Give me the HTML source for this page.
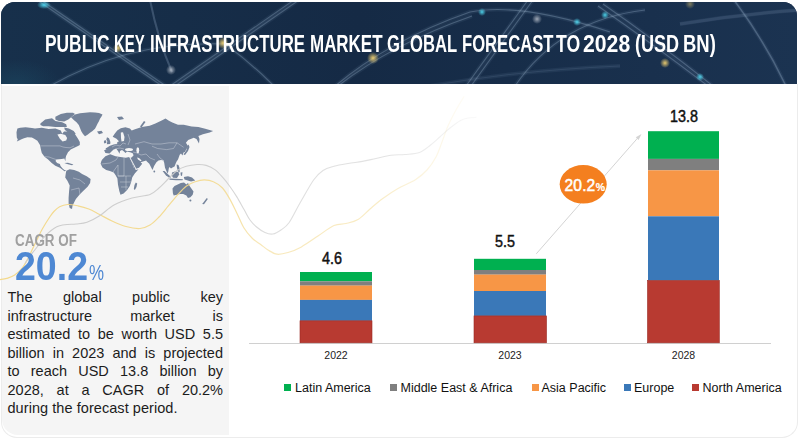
<!DOCTYPE html>
<html><head><meta charset="utf-8">
<style>
*{margin:0;padding:0;box-sizing:border-box}
html,body{width:800px;height:442px;overflow:hidden;background:#fff;font-family:"Liberation Sans",sans-serif}
.abs{position:absolute}
#banner{left:1px;top:2px;width:796px;height:82px;border-radius:14px 14px 0 0;background:#162c47;overflow:hidden}
#title{white-space:nowrap;color:#fff;font-weight:bold;font-size:23px;width:796px;height:30px}
.tw{position:absolute;top:0;transform-origin:0 0}
#card{left:1px;top:84px;width:797px;height:354px;border:1px solid #ececec;border-top:none;border-radius:0 0 16px 16px}
#panel{left:1.5px;top:86px;width:227px;height:349px;background:#f5f5f5;border-radius:0 0 0 16px}
#cagr{left:15px;top:230px;color:#a0a0a0;font-weight:bold;font-size:17.2px;white-space:nowrap;transform-origin:0 0;transform:scaleX(0.781)}
#big{left:14.5px;top:242.5px;color:#4e88d3;font-weight:bold;font-size:41px;white-space:nowrap;transform-origin:0 0;transform:scaleX(0.915)}
#big span{margin-left:1.5px;font-size:21.5px;font-weight:normal;display:inline-block;transform-origin:0 100%;transform:scaleX(0.86)}
#body{left:7.5px;top:288.4px;width:215.5px;font-size:14.5px;line-height:18.45px;color:#1c1c1c}
#body .j{text-align:justify;text-align-last:justify;white-space:nowrap}
#body .l{white-space:nowrap;letter-spacing:0.06px}
.val{font-weight:normal;-webkit-text-stroke:0.45px #111;font-size:15.6px;color:#111;white-space:nowrap;transform:translateX(-50%) scaleX(0.92)}
.yr{font-size:10.5px;color:#222;white-space:nowrap;transform:translateX(-50%)}
.lg{top:380.5px;font-size:12.5px;color:#111;white-space:nowrap}
.sq{top:384px;width:7px;height:7px}
</style></head><body>
<div id="banner" class="abs">
<svg width="796" height="82" style="position:absolute;left:0;top:0">
<defs>
<radialGradient id="gT"><stop offset="0" stop-color="#4fd8f0" stop-opacity="0.95"/><stop offset="1" stop-color="#4fd8f0" stop-opacity="0"/></radialGradient>
<radialGradient id="gG"><stop offset="0" stop-color="#f0d070" stop-opacity="0.95"/><stop offset="1" stop-color="#f0d070" stop-opacity="0"/></radialGradient>
<radialGradient id="gW"><stop offset="0" stop-color="#d8dde5" stop-opacity="0.7"/><stop offset="1" stop-color="#d8dde5" stop-opacity="0"/></radialGradient>
<radialGradient id="gB" cx="0.5" cy="0.5" r="0.5"><stop offset="0" stop-color="#1f5a72" stop-opacity="0.55"/><stop offset="1" stop-color="#1f5a72" stop-opacity="0"/></radialGradient>
<filter id="bl" x="-5%" y="-5%" width="110%" height="110%"><feGaussianBlur stdDeviation="0.7"/></filter>
<linearGradient id="bg" x1="0" y1="0" x2="1" y2="0"><stop offset="0" stop-color="#17304b"/><stop offset="0.45" stop-color="#152a45"/><stop offset="1" stop-color="#1b3351"/></linearGradient>
</defs>
<rect width="796" height="82" fill="url(#bg)"/>
<ellipse cx="15" cy="82" rx="45" ry="25" fill="url(#gB)" opacity="0.6"/>
<g transform="translate(-1,-2)" fill="none" stroke="rgba(175,200,225,0.07)" stroke-width="4" filter="url(#bl)">
<path d="M37 0 L162 86"/><path d="M41 0 L166 86"/>
<path d="M50 86 Q130 40 225 44"/>
<path d="M225 44 Q250 62 274 86"/>
<path d="M170 86 L294 0"/><path d="M175 86 L299 0"/>
<path d="M150 0 Q158 40 172 72" stroke-width="2"/>
<path d="M335 86 Q390 40 470 12 Q520 2 610 32"/>
<path d="M338 86 Q392 44 472 16"/>
<path d="M528 0 L466 86"/><path d="M533 0 L471 86"/>
<path d="M515 86 Q560 20 645 10"/>
<path d="M598 6 Q650 42 708 86"/><path d="M603 4 Q655 40 713 86"/>
<path d="M734 0 Q764 40 786 86"/>
<path d="M680 24 Q740 14 800 10"/>
<path d="M430 86 Q520 70 620 66"/>
</g>
<g transform="translate(-1,-2)" fill="none" stroke="rgba(175,200,225,0.28)" stroke-width="1.1" filter="url(#bl)">
<path d="M37 0 L162 86"/><path d="M41 0 L166 86"/>
<path d="M50 86 Q130 40 225 44"/>
<path d="M225 44 Q250 62 274 86"/>
<path d="M170 86 L294 0"/><path d="M175 86 L299 0"/>
<path d="M150 0 Q158 40 172 72" stroke-width="2" stroke="rgba(175,200,225,0.18)"/>
<path d="M335 86 Q390 40 470 12 Q520 2 610 32"/>
<path d="M338 86 Q392 44 472 16"/>
<path d="M528 0 L466 86"/><path d="M533 0 L471 86"/>
<path d="M515 86 Q560 20 645 10"/>
<path d="M598 6 Q650 42 708 86"/><path d="M603 4 Q655 40 713 86"/>
<path d="M734 0 Q764 40 786 86" stroke-width="1.6"/>
<path d="M680 24 Q740 14 800 10" stroke="rgba(175,200,225,0.10)" stroke-width="3"/>
<path d="M430 86 Q520 70 620 66" stroke="rgba(175,200,225,0.10)"/>
</g>
<g transform="translate(-1,-2)">
<ellipse cx="44" cy="5" rx="7" ry="4" fill="url(#gT)"/>
<circle cx="118" cy="48" r="5" fill="url(#gG)"/>
<circle cx="223" cy="43" r="6" fill="url(#gG)"/>
<circle cx="171" cy="70" r="5" fill="url(#gW)"/>
<circle cx="373" cy="58" r="6" fill="url(#gG)"/>
<circle cx="482" cy="12" r="4" fill="url(#gT)"/>
<circle cx="537" cy="19" r="5" fill="url(#gW)"/>
<circle cx="577" cy="22" r="4" fill="url(#gT)"/>
<circle cx="605" cy="15" r="4" fill="url(#gT)"/>
<circle cx="665" cy="63" r="5" fill="url(#gG)"/>
<circle cx="700" cy="77" r="4" fill="url(#gT)"/>
<circle cx="690" cy="4" r="5" fill="url(#gG)" opacity="0.5"/>
</g>
</svg>
<div id="title" class="abs" style="left:0;top:28.9px"><span class="tw" style="left:43.83px;transform:scaleX(0.7550)">PUBLIC</span><span class="tw" style="left:113.49px;transform:scaleX(0.6501)">KEY</span><span class="tw" style="left:149.12px;transform:scaleX(0.7309)">INFRASTRUCTURE</span><span class="tw" style="left:309.11px;transform:scaleX(0.7373)">MARKET</span><span class="tw" style="left:386.33px;transform:scaleX(0.7222)">GLOBAL</span><span class="tw" style="left:460.98px;transform:scaleX(0.7230)">FORECAST</span><span class="tw" style="left:555.09px;transform:scaleX(0.7667)">TO</span><span class="tw" style="left:582.24px;transform:scaleX(0.9222)">2028</span><span class="tw" style="left:634.36px;transform:scaleX(0.7849)">(USD</span><span class="tw" style="left:682.16px;transform:scaleX(0.8018)">BN)</span></div>
</div>
<div id="card" class="abs"></div>
<div id="panel" class="abs"></div>

<svg class="abs" style="left:0;top:0" width="800" height="442">
<!-- map -->
<g fill="#74839a">
<polygon points="16.5,132.2 17.4,128.6 20.2,127.7 25.6,127.2 31.9,128.1 35,128.4 41.8,127.7 48.6,129 55.4,128.4 60.8,130.4 62.2,133.8 64,131.5 66.5,131.5 69,130.6 72,131.5 74.4,133.3 78,138.8 79.8,142 79.8,145 78,145.9 74.3,147.7 70.7,149.5 68,152.2 66.2,155.8 65.7,157.6 65.3,161.2 64.4,158.5 61.7,159 56.2,159.4 55.5,161 57.1,163 59.9,164 60.5,166 62.6,168.5 64.4,170 66.3,170.7 64.4,171.2 62.6,169.8 59.9,167.8 55.3,165.8 51.7,163.1 48.1,159.4 44.5,156.7 41.8,153.1 40.9,149.5 40,145 37.4,140.8 34.6,139 31.9,137.6 27.4,137.2 24,138.2 21.5,139.3 19,140.6 16.8,141.6 17.8,139.5 16.8,137.5"/>
<polygon points="55.4,116.8 60.8,114.1 66.9,112.8 73,112.8 75,114.1 71.7,116.8 68.3,119.5 64.2,121.6 58.8,120.9 55.4,119.5"/>
<polygon points="40.4,123.6 45.2,119.5 52,118.2 55.4,120.9 62.2,122.3 66.2,124.3 66.9,127 60.8,127 55.4,127 48.6,126.3 43.1,126.3 40.4,125"/>
<polygon points="64.2,127.5 68.9,128.4 73.7,131.1 75.7,133.8 73,135.2 68.9,132.4 64.9,129.9"/>
<polygon points="71,117.3 75,114.4 80,113.2 85,112.7 90,112.3 95,112.4 99,113 102.5,114.6 101.5,116.5 100,118.8 98.8,121.5 97.5,123.8 96.2,126.5 95,128.8 92.5,131 90,132.8 87.5,134.8 85,136.3 83,134 81.3,131.3 80,128 78.8,125 76.5,122.3 73.8,120"/>
<polygon points="66.3,170.7 69.7,169.3 74.2,170.1 78.8,171.8 82.1,174 86.7,176.3 90.6,179.1 90.1,183.1 87.8,186.5 85.5,188.8 82.1,192.1 78.8,195.5 75.9,198.9 74.2,202.3 72.5,205.7 72,209.1 69.7,208 68.6,203.5 68.6,197.8 69.1,191 69.7,185.4 67.4,180.8 65.2,177.4 65.7,174"/>
<polygon points="64.4,163 68,162.8 73.4,164.6 72,165.2 67,164"/>
<!-- Eurasia -->
<polygon points="104.1,150.2 105.4,152.9 109.5,153.6 111.5,151.5 113.6,149.5 116.3,148.8 118,151 119.5,153.8 120,151 122,150 124,151.5 125.5,153 127,151.5 129,152 131,152.5 133,153.5 133.5,155.5 131.5,157.5 130,158 131.5,161 134.3,169.3 139,167.7 142.2,163.8 140.6,162.2 143,161.4 146.1,160.6 146.9,161.4 149.3,163.8 152.5,170.1 154.1,166.1 156.4,162.2 158.5,160.5 161,160 163.4,160.4 164.2,162.8 165,167.7 166.2,170.5 167.5,173.4 168.3,171.5 168.8,168.5 169.5,167 171,168.5 172.5,167.5 174.5,166.5 175.5,164 176.6,161.5 178,159.5 179.7,154.7 181,153.5 182.5,155.5 183.5,152.5 184.8,151.9 188.2,146.2 185.9,142.8 188.2,140 193.8,137.7 196.5,139 199,143.5 199.5,139 198.4,136 202.9,134.3 209.7,132.6 213.1,130.9 205.2,128.7 198.4,127 191.6,126.4 183.7,124.7 178,124.7 172.3,122.4 168.9,120.7 165.5,118.5 162.2,120.2 155.4,123.6 149.7,125.8 141.8,127 135,129.2 131.7,130.4 129.9,128.6 125.4,127.3 120.8,128.2 117.2,130.4 114.5,134.1 112.7,136.8 116.5,138.8 119,141.3 117.2,142.3 117.2,143.8 113.6,144.5 110,145.8 107.2,147.6 105.4,148.5 106.5,149.3"/>
<!-- Africa -->
<polygon points="102,159.7 105.4,156.3 110.2,154.3 115.6,156.3 120.4,157 125.8,157.7 129.2,157 130,158.5 131.5,161.5 133.6,167.4 136,169.9 138.5,169.3 134.8,173.6 132.3,177.3 131.1,182.3 129.8,186 127.3,189.8 123.6,193.5 120.5,194.8 119.3,191 118,184.8 117.4,178.6 115.5,174.9 113.7,172.4 109.9,171.1 106.2,169.9 102.5,167.4 100.6,163.7 101.2,161.5"/>
<polygon points="135.8,182.5 137.2,183.5 136.5,187 134.8,190 133.8,189 134.5,185"/>
<!-- islands -->
<polygon points="107,137.3 109,138.3 110.4,142 110.2,144 106.8,144.3 107.3,141.3 106.3,139.5"/>
<polygon points="104.3,140.6 106,140.2 106.4,142.8 104.5,143.6 103.8,142"/>
<polygon points="97,131.5 101.5,130.8 103,133 99,134.3"/>
<polygon points="117,117 122,116.5 124,119 119,120"/>
<polygon points="140,126.5 144,121 145.5,122 141.5,127.5"/>
<polygon points="188.5,144.5 189.5,147 188,151 185,155 183.5,154.5 186.5,150 187.5,146"/>
<polygon points="162.6,170.9 164.5,171 171,177 170,178.3 166,175.5"/>
<polygon points="172,172.5 175,171.5 178.5,172 179.2,174.5 177,178 173,177.8 171.8,175.5"/>
<polygon points="169.5,178.6 176,178.8 183,179.3 182.5,180.3 176,180.2 169.5,179.7"/>
<polygon points="176.6,164.5 178.5,165 179.5,168 179.7,172.2 178,171.5 177,168"/><polygon points="180.5,172.5 182.5,172.2 182,176 180.8,175.5"/>
<polygon points="183.8,177 188,176.3 192,177.5 195.2,180.5 191,181.5 187,180.3 184.5,179.5"/>
<circle cx="154.3" cy="171.5" r="0.9"/>
<!-- Australia -->
<polygon points="172.5,188.5 174.5,186.1 177.7,184.5 180.8,182.9 184,182.5 186.4,184.5 188,182.9 189.6,186.1 191.9,189.3 193.5,191.6 192.7,194.8 190.4,197.2 188,198 186.4,195.6 183.2,194 180.1,194 176.9,194.8 173.7,195.6 172.9,193.2"/>
<circle cx="190.4" cy="200.4" r="1"/>
<polygon points="206.8,198 207.8,199 204,204.3 202.2,204"/>
</g>
<g fill="none" stroke="#e6e9ee" stroke-width="0.5" opacity="0.75">
<path d="M40.5 145.9 L60 145.9 L63 147 L66 147.5 L70 147.8 L74 146"/>
<path d="M44.5 156.6 L49 157 L53 158.5 L56 159.5"/>
<path d="M135 144 L144 141.7 L152 144 L161 144 L169 142.8 L177 142.8 L180.3 145 L183.6 147.3"/>
<path d="M152 146.2 L157.6 148.5 L166.7 149.6 L173.5 148.5 L177 142.8"/>
<path d="M146 154 L150 158 L155 160"/>
<path d="M157 154 L160 158 L164 161"/>
<path d="M101.5 164 L110 163 L116 160 L118 157"/>
<path d="M113 172 L118 165 L118 176"/>
<path d="M124 157.5 L124 176 L118 176 L131 176"/>
<path d="M120 182 L131 182"/>
<path d="M126 176 L126 190"/>
<path d="M121 187 L128 187"/>
<path d="M112 147 L116 145 L120 146 L123 143 L126 144"/>
<path d="M115 149 L120 148 L124 149"/>
<path d="M128 134 L130 140 L128 145"/>
<path d="M73 178 L80 180 L85 184"/>
<path d="M71 190 L79 188 L80 195"/>
<path d="M133 152 L137 153 L141 155 L146 154"/>
</g>
<!-- water holes -->
<g fill="#f5f5f5">
<polygon points="57.4,134.5 60.8,133.8 65.3,135.1 67.1,137.9 66.2,140.6 62.6,141.5 59.9,138.8"/>
<ellipse cx="129" cy="149.5" rx="4" ry="1.6"/>
<ellipse cx="137.8" cy="150.2" rx="1.4" ry="3"/>
<polygon points="120.8,132.5 123,132.2 124.5,137 124,141 121.5,141.5 121,138"/>
<polygon points="129.6,157.6 130.4,157.4 136.2,168.6 135.4,169"/>
<polygon points="137,157.6 139,158 141.6,160.6 140.6,161.3 138,159.6"/>
</g>
<!-- curves -->
<defs>
<linearGradient id="fy" gradientUnits="userSpaceOnUse" x1="0" y1="0" x2="470" y2="0"><stop offset="0" stop-color="#f3d98c" stop-opacity="1"/><stop offset="0.45" stop-color="#f3d98c" stop-opacity="0.9"/><stop offset="0.56" stop-color="#f3d98c" stop-opacity="0.6"/><stop offset="0.8" stop-color="#f3d98c" stop-opacity="0.5"/><stop offset="1" stop-color="#f3d98c" stop-opacity="0.05"/></linearGradient>
<linearGradient id="fg" gradientUnits="userSpaceOnUse" x1="0" y1="0" x2="480" y2="0"><stop offset="0" stop-color="#cccccc" stop-opacity="1"/><stop offset="0.45" stop-color="#cccccc" stop-opacity="0.9"/><stop offset="0.56" stop-color="#cccccc" stop-opacity="0.65"/><stop offset="0.8" stop-color="#cccccc" stop-opacity="0.55"/><stop offset="1" stop-color="#cccccc" stop-opacity="0.1"/></linearGradient>
</defs>
<path d="M0.0 279.6 C1.1 279.4 4.3 279.2 6.8 278.4 C9.2 277.6 12.1 276.8 14.7 275.0 C17.3 273.2 20.4 270.3 22.6 267.5 C24.9 264.7 26.5 261.2 28.2 258.0 C29.9 254.8 31.4 251.4 33.0 248.0 C34.6 244.6 36.5 240.8 38.1 237.5 C39.7 234.2 40.7 231.8 42.6 228.5 C44.5 225.2 47.5 220.3 49.4 217.5 C51.3 214.7 52.2 213.3 53.9 211.5 C55.6 209.7 57.3 208.0 59.6 206.8 C61.9 205.6 64.5 204.7 67.5 204.5 C70.5 204.3 74.4 205.1 77.9 205.8 C81.5 206.6 85.2 207.6 88.8 209.0 C92.4 210.4 95.7 212.5 99.6 214.5 C103.5 216.5 107.6 219.0 112.0 221.0 C116.4 223.0 121.3 225.2 126.0 226.5 C130.7 227.8 136.0 228.8 140.0 228.5 C144.0 228.2 146.8 226.9 150.0 225.0 C153.2 223.1 156.0 220.1 159.0 217.0 C162.0 213.9 165.1 209.8 168.1 206.2 C171.1 202.6 174.2 198.6 177.2 195.3 C180.2 192.0 183.2 188.5 186.2 186.2 C189.2 183.9 192.3 182.8 195.3 181.7 C198.3 180.6 201.3 179.9 204.3 179.9 C207.3 179.9 210.4 180.3 213.4 181.7 C216.4 183.0 219.8 185.1 222.5 188.0 C225.2 190.9 227.3 194.7 229.7 198.9 C232.1 203.1 234.6 208.6 237.0 213.4 C239.4 218.2 241.5 223.9 244.0 228.0 C246.5 232.1 249.2 235.2 252.0 238.0 C254.8 240.8 258.0 242.5 260.7 244.5 C263.4 246.5 265.3 248.4 268.0 250.0 C270.7 251.6 273.7 253.8 277.0 254.2 C280.3 254.6 283.9 253.7 288.0 252.5 C292.1 251.3 296.4 249.7 301.4 246.9 C306.4 244.2 312.6 239.6 318.0 236.0 C323.4 232.4 329.3 227.6 334.0 225.5 C338.7 223.4 342.0 224.5 346.0 223.5 C350.0 222.5 354.0 221.9 358.0 219.5 C362.0 217.1 365.9 212.5 370.0 209.0 C374.1 205.5 378.1 201.9 382.8 198.5 C387.5 195.1 392.6 191.6 398.0 188.5 C403.4 185.4 410.6 182.8 415.4 179.7 C420.2 176.6 423.6 173.8 427.0 170.0 C430.4 166.2 433.5 161.7 436.0 157.0 C438.5 152.3 440.0 147.2 442.0 142.0 C444.0 136.8 445.7 131.3 448.0 126.0 C450.3 120.7 453.3 115.0 456.0 110.0 C458.7 105.0 462.8 98.6 464.2 96.3" fill="none" stroke="url(#fy)" stroke-width="1.2"/>
<path d="M25.0 263.5 C25.7 262.4 28.1 258.9 29.4 257.0 C30.7 255.2 31.5 254.1 32.8 252.4 C34.1 250.7 35.7 249.0 37.3 246.8 C38.9 244.6 40.8 241.3 42.6 239.0 C44.4 236.7 46.4 234.6 48.3 232.8 C50.2 231.1 52.0 229.7 53.9 228.5 C55.8 227.3 57.3 226.5 59.6 225.8 C61.9 225.1 64.8 224.8 67.5 224.5 C70.2 224.2 72.8 224.4 76.1 224.0 C79.3 223.6 83.1 223.7 87.0 222.3 C90.9 220.9 95.1 218.7 99.6 215.8 C104.1 212.9 108.6 208.0 114.0 205.0 C119.4 202.0 126.0 199.8 132.0 198.0 C138.0 196.2 145.5 196.1 150.0 194.4 C154.5 192.7 156.0 190.6 159.0 188.0 C162.0 185.4 165.1 181.9 168.1 179.0 C171.1 176.1 174.2 172.6 177.2 170.5 C180.2 168.4 182.9 167.3 186.2 166.3 C189.5 165.3 193.8 164.7 197.1 164.5 C200.4 164.3 203.2 164.5 206.2 165.4 C209.2 166.3 212.5 167.9 215.2 169.9 C217.9 171.9 220.1 174.5 222.5 177.2 C224.9 179.9 227.3 182.9 229.7 186.2 C232.1 189.5 234.6 193.2 237.0 197.1 C239.4 201.0 242.0 206.0 244.2 209.8 C246.4 213.6 247.9 217.1 250.0 220.0 C252.1 222.9 254.1 224.9 256.6 227.0 C259.1 229.1 262.3 231.3 265.0 232.5 C267.7 233.7 270.2 234.4 272.9 234.0 C275.6 233.6 278.3 231.9 281.0 230.0 C283.7 228.1 286.0 227.0 289.2 222.5 C292.4 218.0 295.9 210.1 300.0 203.0 C304.1 195.9 309.8 185.4 313.6 180.0 C317.4 174.6 319.6 172.8 323.0 170.5 C326.4 168.2 329.8 167.5 334.0 166.3 C338.2 165.1 343.3 164.3 348.0 163.5 C352.7 162.7 357.7 162.2 362.4 161.4 C367.1 160.6 371.2 159.5 376.0 158.5 C380.8 157.5 386.2 156.0 391.0 155.3 C395.8 154.6 400.3 155.0 405.0 154.5 C409.7 154.0 415.2 154.0 419.4 152.5 C423.6 151.0 426.6 148.1 430.0 145.5 C433.4 142.9 436.5 139.9 439.8 137.0 C443.1 134.1 446.6 130.7 450.0 128.0 C453.4 125.3 457.1 122.4 460.1 120.7 C463.1 119.0 465.3 118.5 468.0 118.0 C470.7 117.5 475.0 117.5 476.4 117.4" fill="none" stroke="url(#fg)" stroke-width="1.1"/>
</svg>

<div id="cagr" class="abs">CAGR OF</div>
<div id="big" class="abs">20.2<span>%</span></div>
<div id="body" class="abs"><div class="j">The global public key</div><div class="j">infrastructure market is</div><div class="j">estimated to be worth USD 5.5</div><div class="j">billion in 2023 and is projected</div><div class="j">to reach USD 13.8 billion by</div><div class="j">2028, at a CAGR of 20.2%</div><div class="l">during the forecast period.</div></div>

<!-- chart -->
<svg class="abs" style="left:0;top:0" width="800" height="442">
<line x1="249" y1="343.5" x2="771" y2="343.5" stroke="#d0d0d0" stroke-width="1"/>
<!-- 2022 -->
<rect x="300" y="272" width="72" height="9.3" fill="#00b050"/>
<rect x="300" y="281.3" width="72" height="4.4" fill="#7f7f7f"/>
<rect x="300" y="285.6" width="72" height="14.3" fill="#f79646"/>
<rect x="300" y="299.9" width="72" height="20.9" fill="#3a78b8"/>
<rect x="300" y="320.8" width="72" height="22" fill="#b83a31" stroke="#9a2a24" stroke-width="0.6"/>
<!-- 2023 -->
<rect x="474" y="258.8" width="72" height="11.2" fill="#00b050"/>
<rect x="474" y="270" width="72" height="4.7" fill="#7f7f7f"/>
<rect x="474" y="274.6" width="72" height="16.4" fill="#f79646"/>
<rect x="474" y="291" width="72" height="24.9" fill="#3a78b8"/>
<rect x="474" y="315.9" width="72.5" height="26.9" fill="#b83a31" stroke="#9a2a24" stroke-width="0.6"/>
<!-- 2028 -->
<rect x="648" y="131.2" width="71" height="27.7" fill="#00b050"/>
<rect x="648" y="158.9" width="71" height="11.4" fill="#7f7f7f"/>
<rect x="648" y="170.3" width="71" height="46" fill="#f79646"/>
<rect x="648" y="216.3" width="71" height="64.2" fill="#3a78b8"/>
<rect x="647.5" y="280.5" width="71.8" height="62.3" fill="#b83a31" stroke="#9a2a24" stroke-width="0.6"/>
<!-- arrow -->
<line x1="536.3" y1="253.8" x2="639" y2="136.5" stroke="#d4d4d4" stroke-width="1"/>
<polygon points="641.5,134 635.8,137.3 638.6,140" fill="#d4d4d4"/>
<ellipse cx="583.2" cy="184.3" rx="23.5" ry="19.3" fill="#f47f1f"/>
</svg>
<div class="abs" style="left:564.6px;top:177.2px;color:#fff;font-weight:normal;-webkit-text-stroke:0.5px #fff;font-size:15.6px;white-space:nowrap;letter-spacing:0.1px">20.2<span style="font-size:10.5px;margin-left:0.5px;font-weight:bold;-webkit-text-stroke:0.2px #fff">%</span></div>

<div class="abs val" style="left:332px;top:250px">4.6</div>
<div class="abs val" style="left:505.1px;top:233px">5.5</div>
<div class="abs val" style="left:684px;top:107.8px">13.8</div>
<div class="abs yr" style="left:336px;top:349px">2022</div>
<div class="abs yr" style="left:510px;top:349px">2023</div>
<div class="abs yr" style="left:683.5px;top:349px">2028</div>

<div class="abs sq" style="left:284px;background:#00b050"></div>
<div class="abs lg" style="left:295px">Latin America</div>
<div class="abs sq" style="left:390px;background:#7f7f7f"></div>
<div class="abs lg" style="left:400.5px">Middle East &amp; Africa</div>
<div class="abs sq" style="left:532px;background:#f79646"></div>
<div class="abs lg" style="left:541.5px">Asia Pacific</div>
<div class="abs sq" style="left:624px;background:#3a78b8"></div>
<div class="abs lg" style="left:634px">Europe</div>
<div class="abs sq" style="left:692px;background:#b83a31"></div>
<div class="abs lg" style="left:702.5px">North America</div>
</body></html>
